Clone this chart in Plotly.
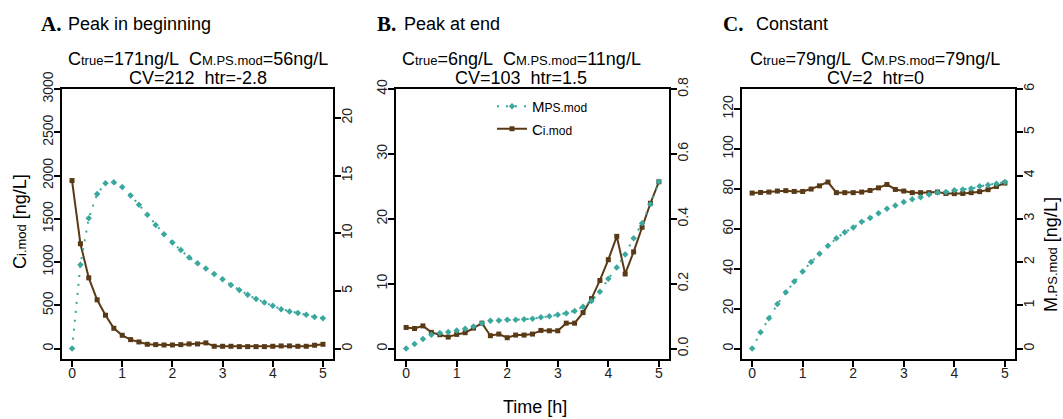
import plotly.graph_objects as go

# ---------------- data ----------------
time_h = [0, 0.167, 0.333, 0.5, 0.667, 0.833, 1, 1.167, 1.333, 1.5, 1.667, 1.833,
          2, 2.167, 2.333, 2.5, 2.667, 2.833, 3, 3.167, 3.333, 3.5, 3.667, 3.833,
          4, 4.167, 4.333, 4.5, 4.667, 4.833, 5]

# Panel A: Peak in beginning
a_ci = [1942, 1212, 818, 564, 386, 235, 154, 104, 77, 50, 46, 42, 42, 46, 54, 54,
        66, 27, 27, 27, 23, 23, 23, 23, 27, 31, 31, 27, 27, 39, 50]
a_mps = [0, 7.27, 11.3, 13.4, 14.34, 14.42, 14.0, 13.28, 12.47, 11.6, 10.72, 9.92,
         9.2, 8.54, 7.9, 7.39, 6.95, 6.47, 6.01, 5.52, 5.09, 4.66, 4.31, 3.99, 3.71,
         3.42, 3.22, 3.08, 2.93, 2.73, 2.64]

# Panel B: Peak at end
b_ci = [3.26, 3.1, 3.5, 2.5, 2.14, 1.78, 2.19, 2.45, 3.16, 3.92, 1.99, 2.24, 1.68,
        2.09, 2.09, 2.24, 2.8, 2.75, 2.75, 3.92, 3.92, 5.55, 7.7, 10.5, 13.7, 17.3,
        11.5, 14.9, 18.7, 22.4, 25.7]
b_mps = [0, 0.0143, 0.0296, 0.0428, 0.048, 0.051, 0.056, 0.061, 0.068, 0.078, 0.0856,
         0.0866, 0.0887, 0.0887, 0.0907, 0.0917, 0.0968, 0.0999, 0.104, 0.109, 0.116,
         0.129, 0.147, 0.175, 0.215, 0.25, 0.29, 0.34, 0.386, 0.445, 0.514]

# Panel C: Constant
c_ci = [77.9, 78.2, 78.4, 78.9, 79.1, 78.7, 78.7, 79.9, 81.5, 83.4, 78.1, 78.1, 78.1,
        78.4, 79.2, 80.5, 82.2, 79.7, 78.9, 78.1, 78.1, 78.1, 78.4, 77.7, 77.6, 77.7,
        78.1, 78.6, 79.6, 81.2, 82.9]
c_mps = [0, 0.38, 0.70, 1.03, 1.30, 1.55, 1.78, 2.0, 2.19, 2.38, 2.55, 2.69, 2.80,
         2.93, 3.02, 3.13, 3.23, 3.31, 3.39, 3.45, 3.50, 3.56, 3.61, 3.62, 3.66, 3.68,
         3.70, 3.75, 3.78, 3.81, 3.85]


def sub(s, size=13):
    return f"<span style='font-size:{size}px'>{s}</span>"


panel_letters = ["A.", "B.", "C."]
panel_titles = ["Peak in beginning", "Peak at end", "Constant"]
sub_line1 = ["C" + sub("true") + "=171ng/L\u00a0\u00a0C" + sub("M.PS.mod") + "=56ng/L",
             "C" + sub("true") + "=6ng/L\u00a0\u00a0C" + sub("M.PS.mod") + "=11ng/L",
             "C" + sub("true") + "=79ng/L\u00a0\u00a0C" + sub("M.PS.mod") + "=79ng/L"]
sub_line2 = ["CV=212\u00a0\u00a0htr=-2.8", "CV=103\u00a0\u00a0htr=1.5", "CV=2\u00a0\u00a0htr=0"]

x_ticks = [0, 1, 2, 3, 4, 5]
left_ticks = [[0, 500, 1000, 1500, 2000, 2500, 3000], [0, 10, 20, 30, 40],
              [0, 20, 40, 60, 80, 100, 120]]
right_ticks = [[0, 5, 10, 15, 20], [0, 0.2, 0.4, 0.6, 0.8], [0, 1, 2, 3, 4, 5, 6]]
right_ticktext = [None, ["0.0", "0.2", "0.4", "0.6", "0.8"], None]
left_ranges = [[-120, 3000], [-1.6, 40], [-5.2, 130]]
right_ranges = [[-0.9, 22.5], [-0.032, 0.8], [-0.24, 6]]

# ---------------- layout geometry ----------------
W, H = 1063, 419
BROWN = "#5a3a16"
TEAL = "#3aa89e"
SANS = "Liberation Sans, Arial, sans-serif"
SERIF = "Liberation Serif, Times New Roman, serif"

box_px = [(62, 333), (396, 669), (742, 1015)]
top_px, bot_px = 89, 359

fig = go.Figure()
ci_data = [a_ci, b_ci, c_ci]
mps_data = [a_mps, b_mps, c_mps]

for i in range(3):
    xa = "x" if i == 0 else f"x{i+1}"
    yl = f"y{2*i+1}" if i > 0 else "y"
    yr = f"y{2*i+2}"
    show = (i == 1)
    fig.add_trace(go.Scatter(
        x=time_h, y=mps_data[i], xaxis=xa, yaxis=yr, mode="lines+markers",
        name="M" + sub("PS.mod", 12), showlegend=show, legendrank=1,
        line=dict(color=TEAL, width=2, dash="2px,7px"),
        marker=dict(color=TEAL, size=5, symbol="diamond")))
    fig.add_trace(go.Scatter(
        x=time_h, y=ci_data[i], xaxis=xa, yaxis=yl, mode="lines+markers",
        name="C" + sub("i.mod", 12), showlegend=show, legendrank=2,
        line=dict(color=BROWN, width=2),
        marker=dict(color=BROWN, size=5, symbol="square")))

axis_common = dict(showline=True, linecolor="black", linewidth=2, ticks="outside",
                   ticklen=6, tickwidth=1.5, tickcolor="black", showgrid=False,
                   zeroline=False, automargin=False,
                   tickfont=dict(family=SANS, size=14, color="#222"))

ydom = [1 - bot_px / H, 1 - top_px / H]
for i in range(3):
    xk = "xaxis" if i == 0 else f"xaxis{i+1}"
    ylk = "yaxis" if i == 0 else f"yaxis{2*i+1}"
    yrk = f"yaxis{2*i+2}"
    ylname = "y" if i == 0 else f"y{2*i+1}"
    xname = "x" if i == 0 else f"x{i+1}"
    x0, x1 = box_px[i]
    fig.update_layout({
        xk: dict(domain=[x0 / W, x1 / W], range=[-0.2, 5.2], tickvals=x_ticks,
                 mirror=True, anchor=ylname, ticklabelstandoff=-6, **axis_common),
        ylk: dict(domain=ydom, range=left_ranges[i], tickvals=left_ticks[i],
                  tickangle=-90, anchor=xname, ticklabelstandoff=-5, **axis_common),
        yrk: dict(range=right_ranges[i], tickvals=right_ticks[i],
                  ticktext=right_ticktext[i], tickangle=-90, side="right",
                  overlaying=ylname, anchor=xname, ticklabelstandoff=-6, **axis_common),
    })

ann = []
letter_x = [39, 375, 721]
title_x = [66, 402, 754]
sub_centers = [198, 521, 875]
for i in range(3):
    ann.append(dict(text="<b>" + panel_letters[i] + "</b>", x=letter_x[i] / W, y=1 - 24 / H,
                    xref="paper", yref="paper", xanchor="left", yanchor="middle",
                    showarrow=False, font=dict(family=SERIF, size=21, color="black")))
    ann.append(dict(text=panel_titles[i], x=title_x[i] / W, y=1 - 24 / H,
                    xref="paper", yref="paper", xanchor="left", yanchor="middle",
                    showarrow=False, font=dict(family=SANS, size=18, color="black")))
    ann.append(dict(text=sub_line1[i], x=sub_centers[i] / W, y=1 - 59 / H,
                    xref="paper", yref="paper", xanchor="center", yanchor="middle",
                    showarrow=False, font=dict(family=SANS, size=18, color="black")))
    ann.append(dict(text=sub_line2[i], x=sub_centers[i] / W, y=1 - 78 / H,
                    xref="paper", yref="paper", xanchor="center", yanchor="middle",
                    showarrow=False, font=dict(family=SANS, size=18, color="black")))

ann.append(dict(text="C" + sub("i.mod") + " [ng/L]", x=20 / W, y=1 - 222 / H, textangle=-90,
                xref="paper", yref="paper", xanchor="center", yanchor="middle",
                showarrow=False, font=dict(family=SANS, size=18, color="black")))
ann.append(dict(text="M" + sub(".PS.mod") + " [ng/L]", x=1051 / W, y=1 - 255 / H, textangle=-90,
                xref="paper", yref="paper", xanchor="center", yanchor="middle",
                showarrow=False, font=dict(family=SANS, size=18, color="black")))
ann.append(dict(text="Time [h]", x=535 / W, y=1 - 407 / H,
                xref="paper", yref="paper", xanchor="center", yanchor="middle",
                showarrow=False, font=dict(family=SANS, size=18, color="black")))

fig.update_layout(
    width=W, height=H, margin=dict(l=0, r=0, t=0, b=0, autoexpand=False),
    paper_bgcolor="white", plot_bgcolor="white",
    annotations=ann,
    legend=dict(x=492 / W, y=1 - 90 / H, xanchor="left", yanchor="top",
                bgcolor="rgba(0,0,0,0)", font=dict(family=SANS, size=15, color="black"),
                tracegroupgap=0, itemwidth=30),
)

fig.write_html("out.html", config={"displayModeBar": False})

# remove default page margin so the figure sits at the window origin
with open("out.html", "r", encoding="utf-8") as f:
    html = f.read()
html = html.replace("<head>", "<head><style>html,body{margin:0;padding:0;overflow:hidden;}</style>", 1)
with open("out.html", "w", encoding="utf-8") as f:
    f.write(html)
